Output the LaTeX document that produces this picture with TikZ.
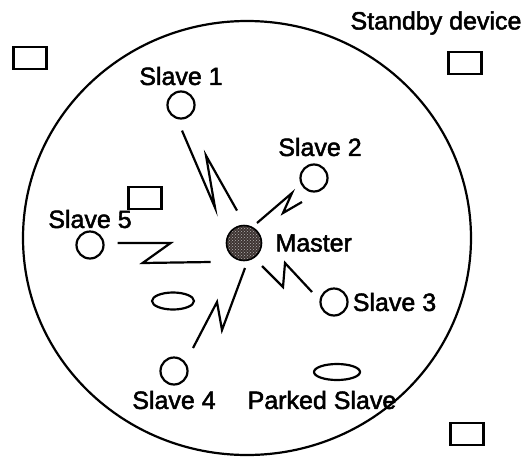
\documentclass[tikz,border=0pt]{standalone}
\usepackage{fontspec}
\setmainfont{Liberation Sans}
\newfontfamily\lblfont[FakeBold=2]{Liberation Sans}
\usetikzlibrary{positioning,patterns,shapes.geometric}
\definecolor{mastercol}{RGB}{62,52,50}

\begin{document}
\begin{tikzpicture}[x=1pt,y=-1pt,
        dev/.style={circle,draw,line width=2.2pt,minimum size=27pt,inner sep=0pt},
        parked/.style={ellipse,draw,line width=2.2pt,inner sep=0pt},
        standby/.style={rectangle,draw,line width=2.2pt,minimum width=33pt,minimum height=22pt,inner sep=0pt},
        master/.style={circle,draw,line width=1.6pt,minimum size=35pt,inner sep=0pt,
            preaction={fill=mastercol},pattern=crosshatch dots,pattern color=gray!60},
        bolt/.style={line width=2.2pt,line join=miter},
        lbl/.style={inner sep=0pt,font=\lblfont\fontsize{25}{30}\selectfont}]
        \useasboundingbox (0,0) rectangle (528,464);
        \draw[line width=2.2pt] (247,238) ellipse (224 and 217);
        % piconet members
        \node[master] (m) at (244,243) {};
        \node[dev] (s1) at (181,105) {};
        \node[dev] (s2) at (314,178) {};
        \node[dev] (s3) at (334,302) {};
        \node[dev] (s4) at (174,371) {};
        \node[dev] (s5) at (90,245) {};
        \node[parked,minimum width=42pt,minimum height=17pt] (p1) at (173,301) {};
        \node[parked,minimum width=46pt,minimum height=16pt] (p2) at (337,372) {};
        \node[standby] (sb1) at (30,58) {};
        \node[standby] (sb2) at (145,198) {};
        \node[standby] (sb3) at (465,63) {};
        \node[standby] (sb4) at (467,434) {};
        % labels
        \node[lbl,right=13pt of m] {Master};
        \node[lbl,above=5pt of s1] {Slave 1};
        \node[lbl,above=7pt of s2,xshift=6pt] {Slave 2};
        \node[lbl,right=4pt of s3] {Slave 3};
        \node[lbl,below=5pt of s4] {Slave 4};
        \node[lbl,above=2pt of s5] {Slave 5};
        \node[lbl] at (322,400) {Parked Slave};
        \node[lbl] at (436,23) {Standby device};
        % radio links
        \draw[bolt] ([shift={(1,11)}]s1.south) -- ++(33,77) -- ++(-9,-52) -- ++(31,55);
        \draw[bolt] ([shift={(13,-20)}]m.center) -- ++(35,-30) -- ++(-9,20) -- ++(19,-11);
        \draw[bolt] ([shift={(18,23)}]m.center) -- ++(21,21) -- ++(2,-24) -- ++(27,29);
        \draw[bolt] ([shift={(1,25)}]m.center) -- ++(-23,62) -- ++(-5,-28) -- ++(-24,46);
        \draw[bolt] ([shift={(13,-2)}]s5.east) -- ++(53,0) -- ++(-28,20) -- ++(68,-1);
    \end{tikzpicture}
\end{document}
